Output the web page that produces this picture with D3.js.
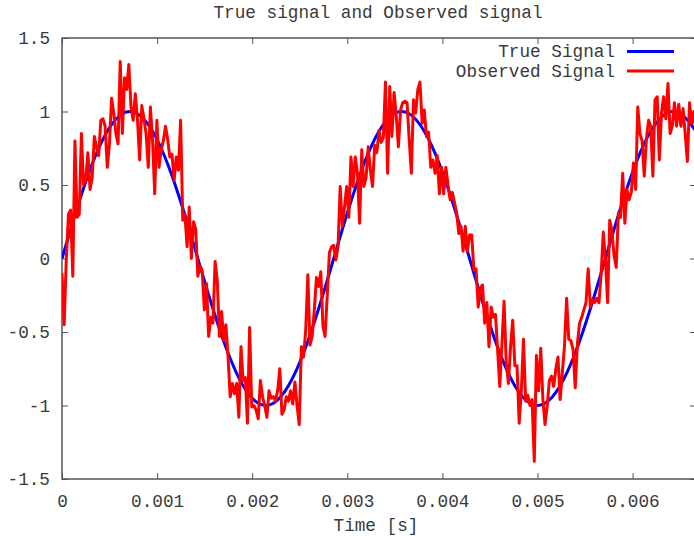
<!DOCTYPE html>
<html>
<head>
<meta charset="utf-8">
<script src="https://cdn.jsdelivr.net/npm/d3@7"></script>
<style>
  body { margin: 0; background: #fff; }
  svg text { font-family: "Liberation Mono", "DejaVu Sans Mono", monospace; }
</style>
</head>
<body>
<div id="svg-container"></div>
<script>
const SAMPLE_RATE = 44100;

// observed signal, one value per sample
const observedValues = [
  -0.10, -0.45, 0.00, 0.30, 0.33, -0.12, 0.80, 0.28, 0.30, 0.85,
  0.50, 0.53, 0.72, 0.47, 0.55, 0.83, 0.76, 0.70, 0.94, 0.95,
  0.90, 0.62, 0.78, 1.09, 0.99, 0.85, 0.78, 1.34, 0.85, 1.23,
  1.15, 1.32, 1.03, 0.94, 1.12, 0.95, 0.67, 1.04, 0.95, 0.85,
  0.62, 1.03, 0.80, 0.44, 0.94, 0.62, 0.74, 0.80, 0.90, 0.81,
  0.69, 0.71, 0.53, 0.69, 0.60, 0.94, 0.26, 0.30, 0.08, 0.35,
  0.00, 0.25, 0.20, -0.12, -0.05, -0.08, -0.35, -0.17, -0.53, -0.40,
  -0.44, -0.02, -0.15, -0.53, -0.36, -0.56, -0.45, -0.67, -0.94, -0.85,
  -0.92, -0.85, -1.08, -0.60, -0.83, -0.81, -1.12, -0.47, -1.01, -1.00,
  -1.03, -1.09, -0.83, -0.94, -1.00, -1.08, -0.90, -0.95, -0.94, -0.97,
  -0.90, -0.75, -1.06, -1.03, -0.94, -0.97, -0.90, -0.99, -0.84, -1.00,
  -1.13, -0.60, -0.67, -0.49, -0.11, -0.59, -0.53, -0.35, -0.13, -0.19,
  -0.09, -0.46, -0.53, -0.25, 0.04, 0.08, 0.09, -0.01, 0.08, 0.49,
  0.22, 0.35, 0.49, 0.28, 0.69, 0.49, 0.69, 0.58, 0.24, 0.74,
  0.49, 0.55, 0.76, 0.60, 0.49, 0.77, 0.72, 0.87, 0.79, 0.82,
  1.20, 0.58, 1.17, 0.83, 1.13, 0.97, 0.76, 1.01, 1.06, 1.07,
  1.06, 0.81, 0.58, 1.08, 0.99, 1.15, 1.20, 0.92, 1.01, 0.83,
  0.86, 0.62, 0.67, 0.58, 0.70, 0.44, 0.62, 0.44, 0.62, 0.50,
  0.40, 0.45, 0.38, 0.31, 0.17, 0.22, 0.05, 0.22, 0.05, 0.16,
  0.16, -0.08, -0.07, -0.33, -0.20, -0.18, -0.44, -0.30, -0.60, -0.33,
  -0.40, -0.38, -0.62, -0.87, -0.58, -0.29, -0.71, -0.85, -0.60, -0.42,
  -0.73, -0.73, -1.12, -0.90, -0.55, -0.97, -0.93, -1.00, -0.96, -1.38,
  -0.66, -0.90, -0.61, -0.96, -1.13, -1.00, -0.83, -0.80, -0.87, -0.75,
  -0.67, -0.96, -0.78, -0.60, -0.27, -0.55, -0.56, -0.62, -0.88, -0.58,
  -0.44, -0.40, -0.35, -0.30, -0.07, -0.33, -0.28, -0.30, -0.27, -0.30,
  -0.11, 0.18, 0.00, -0.30, 0.26, 0.19, 0.02, -0.06, 0.31, 0.28,
  0.58, 0.24, 0.47, 0.40, 0.45, 0.65, 0.47, 1.03, 0.85, 0.80,
  0.56, 0.81, 0.94, 0.90, 0.56, 1.08, 1.10, 0.67, 0.99, 1.10,
  0.95, 1.19, 0.85, 0.90, 1.06, 0.90, 1.05, 0.90, 1.02, 0.85,
  0.66, 1.06, 0.92, 1.00, 0.85
];

// true signal, read every 7 samples
const TRUE_STEP = 7;
const trueValues = [
  0, 0.342, 0.643, 0.866, 0.985, 0.985, 0.866, 0.643, 0.342,
  0, -0.342, -0.643, -0.866, -0.985, -0.985, -0.866, -0.643, -0.342,
  0, 0.342, 0.643, 0.866, 0.985, 0.985, 0.866, 0.643, 0.342,
  0, -0.342, -0.643, -0.866, -0.985, -0.985, -0.866, -0.643, -0.342,
  0, 0.342, 0.643, 0.866, 0.985, 0.985, 0.866
];

const xTicks = [0, 0.001, 0.002, 0.003, 0.004, 0.005, 0.006];
const yTicks = [-1.5, -1, -0.5, 0, 0.5, 1, 1.5];
const seriesNames = ["True Signal", "Observed Signal"];
const seriesColors = ["#0000ff", "#ff0000"];

const width = 694;
const height = 536;
const PLOT = { LEFT: 62, RIGHT: 696, TOP: 38, BOTTOM: 479 };
const FONT_SIZE = "17.7px";
const TEXT_COLOR = "#3a3a3a";

let svg = d3.select("#svg-container")
  .append("svg")
  .attr("width", width)
  .attr("height", height);

let x = d3.scaleLinear()
  .domain([0, (observedValues.length - 1) / SAMPLE_RATE])
  .range([PLOT.LEFT, PLOT.RIGHT]);
let y = d3.scaleLinear()
  .domain([-1.5, 1.5])
  .range([PLOT.BOTTOM, PLOT.TOP]);

svg.append("defs").append("clipPath")
  .attr("id", "clip")
  .append("rect")
  .attr("x", PLOT.LEFT)
  .attr("y", PLOT.TOP)
  .attr("width", PLOT.RIGHT - PLOT.LEFT)
  .attr("height", PLOT.BOTTOM - PLOT.TOP);

// axes, ticks pointing inward on all four sides
function styleAxis(g) {
  g.select(".domain").remove();
  g.selectAll(".tick line").attr("stroke", "#555").attr("stroke-width", 1);
  g.selectAll(".tick text")
    .attr("fill", TEXT_COLOR)
    .style("font-size", FONT_SIZE);
}

svg.append("g")
  .attr("transform", "translate(0," + PLOT.BOTTOM + ")")
  .call(d3.axisBottom(x).tickValues(xTicks).tickSize(-6).tickPadding(15)
    .tickFormat(d => d === 0 ? "0" : d3.format(".3f")(d)))
  .call(styleAxis);
svg.append("g")
  .attr("transform", "translate(0," + PLOT.TOP + ")")
  .call(d3.axisTop(x).tickValues(xTicks).tickSize(-6).tickFormat(""))
  .call(styleAxis);
svg.append("g")
  .attr("transform", "translate(" + PLOT.LEFT + ",0)")
  .call(d3.axisLeft(y).tickValues(yTicks).tickSize(-6).tickPadding(12)
    .tickFormat(d => String(d)))
  .call(styleAxis);
svg.append("g")
  .attr("transform", "translate(" + PLOT.RIGHT + ",0)")
  .call(d3.axisRight(y).tickValues(yTicks).tickSize(-6).tickFormat(""))
  .call(styleAxis);

svg.append("rect")
  .attr("x", PLOT.LEFT)
  .attr("y", PLOT.TOP)
  .attr("width", PLOT.RIGHT - PLOT.LEFT)
  .attr("height", PLOT.BOTTOM - PLOT.TOP)
  .attr("fill", "none")
  .attr("stroke", "#555")
  .attr("stroke-width", 1.5);

let plot = svg.append("g").attr("clip-path", "url(#clip)");

let trueLine = d3.line()
  .x((d, i) => x(i * TRUE_STEP / SAMPLE_RATE))
  .y(d => y(d))
  .curve(d3.curveNatural);
let observedLine = d3.line()
  .x((d, i) => x(i / SAMPLE_RATE))
  .y(d => y(d));

plot.append("path")
  .datum(trueValues)
  .attr("d", trueLine)
  .attr("fill", "none")
  .attr("stroke", seriesColors[0])
  .attr("stroke-width", 3);
plot.append("path")
  .datum(observedValues)
  .attr("d", observedLine)
  .attr("fill", "none")
  .attr("stroke", seriesColors[1])
  .attr("stroke-width", 3)
  .attr("stroke-linejoin", "round");

// title and axis label
svg.append("text")
  .attr("x", 378)
  .attr("y", 18)
  .attr("text-anchor", "middle")
  .attr("fill", TEXT_COLOR)
  .style("font-size", FONT_SIZE)
  .text("True signal and Observed signal");
svg.append("text")
  .attr("x", 376)
  .attr("y", 531)
  .attr("text-anchor", "middle")
  .attr("fill", TEXT_COLOR)
  .style("font-size", FONT_SIZE)
  .text("Time [s]");

// legend
let legend = svg.append("g")
  .selectAll("g")
  .data(seriesNames)
  .enter()
  .append("g")
  .attr("transform", (d, i) => "translate(0," + (51.5 + i * 19.5) + ")");
legend.append("text")
  .attr("x", 615)
  .attr("dy", "0.33em")
  .attr("text-anchor", "end")
  .attr("fill", TEXT_COLOR)
  .style("font-size", FONT_SIZE)
  .text(d => d);
legend.append("line")
  .attr("x1", 627)
  .attr("x2", 674)
  .attr("stroke", (d, i) => seriesColors[i])
  .attr("stroke-width", 3);
</script>
</body>
</html>
